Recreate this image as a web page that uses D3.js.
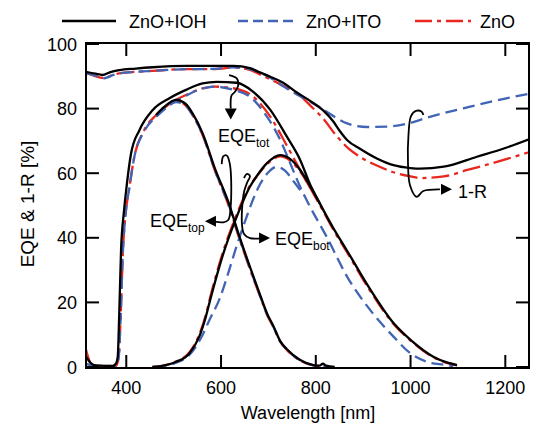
<!DOCTYPE html>
<html lang="en">
<head>
  <meta charset="UTF-8">
  <title>EQE and 1-R</title>
  <style>
    body {
      margin: 0;
      padding: 0;
      background: #fff;
    }
    svg {
      font-family: Arial, 'Liberation Sans', sans-serif;
    }
  </style>
</head>
<body>

<script src="https://d3js.org/d3.v7.min.js"></script>

<script>
  // Data: [wavelength nm, percent]
  const refIOH = [[315,91.4],[335,90.8],[350,90.4],[365,91.2],[385,91.9],[420,92.4],[456,92.8],[526,93.2],[586,93.2],[626,93.2],[661,92.5],[682,91.2],[697,90.3],[731,88],[760,85],[788,82.4],[815,79.5],[837,76],[851,73],[866,70.3],[894,67.5],[930,64.5],[964,62.5],[1000,61.6],[1020,61.4],[1070,62],[1140,65.1],[1200,67.8],[1250,70.5]];
  const refITO = [[315,91],[330,90.4],[354,89.4],[370,90.3],[385,90.9],[420,91.4],[456,91.7],[526,92.2],[586,92.3],[626,92.8],[661,92.2],[682,91.2],[697,90.2],[725,87.5],[753,85],[790,82],[823,79],[845,77],[866,75.4],[908,74.3],[950,74.4],[1000,75.6],[1035,77.2],[1070,78.6],[1120,80.4],[1175,82.3],[1250,84.6]];
  const refZnO = [[315,91],[330,90.3],[354,89.4],[370,90.3],[385,90.9],[420,91.4],[456,91.7],[526,92.2],[586,92.2],[626,92.7],[661,92],[682,90.6],[697,89.6],[731,87],[767,84],[788,81],[815,77],[844,71.5],[870,67.5],[894,65],[930,62.3],[964,60.3],[1000,59],[1020,58.5],[1070,59],[1120,61],[1175,63.2],[1250,66.5]];

  const totIOH = [[315,3.2],[325,1.2],[336,0.5],[371,0.3],[378,1],[382,3.2],[385,15.6],[389,36.2],[395,48],[400,55],[410,66],[428,73.4],[456,79.6],[491,83.2],[526,85.8],[561,87.8],[591,88.3],[633,88],[668,85.2],[704,79.6],[739,71.3],[767,64.1],[788,56.5],[809,50.5],[837,43],[866,36],[915,24],[964,13.6],[1000,8.4],[1048,3.2],[1075,1.5],[1098,0.6]];
  const totITO = [[315,1],[330,0.4],[378,0.3],[384,3],[388,15],[393,36],[399,48],[406,55],[417,65],[438,73],[463,77.5],[491,81],[526,84],[561,86.2],[586,86.8],[626,85.8],[661,83.7],[697,77.5],[725,70.3],[746,63.1],[767,55.8],[784,50.7],[823,40.3],[866,28],[915,17.6],[964,9.4],[1000,4.2],[1035,1.6],[1070,0.7],[1090,0.3]];
  const totZnO = [[315,5.3],[322,2],[330,0.4],[378,0.3],[384,3],[388,15],[393,36],[399,48],[406,55],[417,65.1],[438,73.4],[463,78],[491,81.6],[526,84.2],[561,86.3],[586,86.8],[626,86.3],[668,83.7],[704,77.5],[739,68.5],[767,61],[788,55.5],[809,50],[837,42.5],[866,35.5],[915,23.5],[964,13.3],[1000,8.2],[1048,3],[1098,0.5]];

  // top cells branch off the totals near 465 nm
  const topIOH = [[463,78],[480,80.5],[505,82.7],[525,81.5],[540,78.5],[561,72.4],[587,61.5],[619,49.6],[633,43],[661,31],[682,22.5],[697,16.6],[711,12.5],[725,8],[739,5.5],[767,2.2],[795,0.6],[808,0.4],[815,1.0],[822,0.4],[840,0]];
  const topITO = [[463,77.5],[480,79.8],[505,82],[525,81],[540,78],[561,72],[587,61],[619,49],[633,42.6],[661,30.6],[682,22.2],[697,16.4],[711,12.3],[725,7.9],[739,5.4],[767,2.1],[795,0.5],[830,0]];
  const topZnO = [[463,78],[480,80.2],[505,82.3],[525,81],[540,78],[561,71.8],[587,60.8],[619,48.8],[633,42.3],[661,30.3],[682,22],[697,16.2],[711,12.2],[725,7.8],[739,5.3],[767,2],[795,0.5],[830,0]];

  // bottom cells join the totals at long wavelength
  const botIOH = [[455,0],[470,0.2],[505,1.6],[533,4.2],[554,9.4],[568,15.6],[577,20.7],[605,35.2],[633,46.5],[661,55.8],[675,59],[697,63.1],[725,65.6],[745,64.5],[767,61],[788,56],[809,50.5]];
  const botITO = [[460,0],[480,0.3],[505,1.3],[533,3.7],[556,8.5],[577,15],[598,21.5],[615,29],[633,37.5],[654,46.5],[668,52],[682,56.5],[700,60.3],[718,62],[735,60.8],[753,57.5],[767,54.8],[776,53]];
  const botZnO = [[455,0],[470,0.2],[505,1.7],[533,4.5],[554,10],[568,16.2],[577,21.5],[605,36],[633,47.2],[661,56.2],[675,59],[697,62.8],[725,65.2],[745,64],[767,60.5],[788,55.5]];

  const xTicks = [400, 600, 800, 1000, 1200];
  const yTicks = [0, 20, 40, 60, 80, 100];

  // annotation curls, in data units
  const curlTot = [[617,90.4],[633,89.4],[636.4,87.3],[629.5,85.2],[622,84],[620.5,80]];
  const curlTop = [[601.4,62.8],[604.8,65.2],[612,65.5],[619,62.5],[620.4,49.6],[615.3,45.5],[604.8,44.8],[583.7,45.1]];
  const curlBot = [[648.5,58.5],[654.8,59.8],[661,59.1],[654.8,57],[648.5,54.2],[644.3,48.6],[644.3,44],[648.5,41.2],[661,39.9],[690,39.9]];
  const curlRef = [[1027,78],[1023.6,79],[1011.5,79.3],[1001,77.7],[995.6,71.8],[994.6,63.2],[998.8,56.3],[1013,52.7],[1027,54.5],[1062,55]];

  const W = 536, H = 427;
  const svg = d3.select('body').append('svg')
    .attr('width', W)
    .attr('height', H);

  const x = d3.scaleLinear().domain([315, 1250]).range([86, 529]);
  const y = d3.scaleLinear().domain([0, 100]).range([367, 44]);

  const line = d3.line()
    .x(d => x(d[0]))
    .y(d => y(d[1]))
    .curve(d3.curveMonotoneX);

  const red = '#e8271f', blue = '#4164b4';
  const styles = {
    ZnO: { color: red, dash: '18,5,4,5', legendDash: '17,5,4,5' },
    ITO: { color: blue, dash: '12,6', legendDash: '10,5' },
    IOH: { color: '#000', dash: null, legendDash: null }
  };

  const series = [
    ['ZnO', [refZnO, totZnO, topZnO, botZnO]],
    ['ITO', [refITO, totITO, topITO, botITO]],
    ['IOH', [refIOH, totIOH, topIOH, botIOH]]
  ];

  // clip to plot frame
  svg.append('clipPath').attr('id', 'plot')
    .append('rect').attr('x', 86).attr('y', 43).attr('width', 443).attr('height', 325);

  const curves = svg.append('g').attr('clip-path', 'url(#plot)');
  series.forEach(([key, arrs]) => {
    arrs.forEach(arr => {
      curves.append('path')
        .attr('d', line(arr))
        .attr('fill', 'none')
        .attr('stroke', styles[key].color)
        .attr('stroke-width', 2.3)
        .attr('stroke-dasharray', styles[key].dash);
    });
  });

  // frame + inward ticks
  const axes = svg.append('g').attr('stroke', '#000').attr('stroke-width', 2);
  axes.append('rect')
    .attr('x', 86).attr('y', 43).attr('width', 443).attr('height', 325)
    .attr('fill', 'none');
  xTicks.forEach(t => {
    axes.append('line').attr('x1', x(t)).attr('x2', x(t)).attr('y1', 368).attr('y2', 355);
    axes.append('line').attr('x1', x(t)).attr('x2', x(t)).attr('y1', 43).attr('y2', 56);
  });
  yTicks.forEach(t => {
    axes.append('line').attr('x1', 86).attr('x2', 99).attr('y1', y(t)).attr('y2', y(t));
    axes.append('line').attr('x1', 529).attr('x2', 516).attr('y1', y(t)).attr('y2', y(t));
  });

  const labels = svg.append('g').attr('font-size', 18).attr('fill', '#000');
  xTicks.forEach(t => {
    labels.append('text').attr('x', x(t)).attr('y', 394)
      .attr('text-anchor', 'middle').text(t);
  });
  yTicks.forEach(t => {
    labels.append('text').attr('x', 77).attr('y', y(t) + 6.5)
      .attr('text-anchor', 'end').text(t);
  });
  labels.append('text').attr('x', 308).attr('y', 419)
    .attr('text-anchor', 'middle').text('Wavelength [nm]');
  labels.append('text')
    .attr('transform', 'translate(33.5,204) rotate(-90)')
    .attr('font-size', 19)
    .attr('text-anchor', 'middle').text('EQE & 1-R [%]');

  // legend
  const legend = [
    { name: 'ZnO+IOH', key: 'IOH', x1: 62, x2: 116, tx: 129 },
    { name: 'ZnO+ITO', key: 'ITO', x1: 238, x2: 293, tx: 306 },
    { name: 'ZnO', key: 'ZnO', x1: 415, x2: 471, tx: 480 }
  ];
  legend.forEach(l => {
    svg.append('line').attr('x1', l.x1).attr('x2', l.x2).attr('y1', 21).attr('y2', 21)
      .attr('stroke', styles[l.key].color).attr('stroke-width', 2.4)
      .attr('stroke-dasharray', styles[l.key].legendDash);
    labels.append('text').attr('x', l.tx).attr('y', 28).text(l.name);
  });

  // annotations
  const curl = d3.line().x(d => x(d[0])).y(d => y(d[1])).curve(d3.curveCatmullRom.alpha(0.5));
  const notes = svg.append('g');
  [curlTot, curlTop, curlBot, curlRef].forEach(c => {
    notes.append('path').attr('d', curl(c))
      .attr('fill', 'none').attr('stroke', '#000').attr('stroke-width', 1.8);
  });

  function arrowHead(px, py, dir) {
    // dir: 'down', 'left', 'right'
    let pts;
    if (dir === 'down') pts = [[px - 6, py - 11], [px + 6, py - 11], [px, py]];
    if (dir === 'left') pts = [[px + 11, py - 5.5], [px + 11, py + 5.5], [px, py]];
    if (dir === 'right') pts = [[px - 11, py - 5.5], [px - 11, py + 5.5], [px, py]];
    notes.append('polygon').attr('points', pts.join(' ')).attr('fill', '#000');
  }
  arrowHead(x(620.5), y(76.6), 'down');
  arrowHead(x(566), y(45.1), 'left');
  arrowHead(x(703.5), y(39.9), 'right');
  arrowHead(x(1087.5), y(55), 'right');

  function subLabel(wl, v, main, sub) {
    const t = labels.append('text').attr('x', x(wl)).attr('y', y(v));
    t.append('tspan').text(main);
    t.append('tspan').attr('font-size', 12).attr('dy', 5).text(sub);
  }
  subLabel(593.6, 69.7, 'EQE', 'tot');
  subLabel(450, 43.2, 'EQE', 'top');
  subLabel(713.9, 37.8, 'EQE', 'bot');
  labels.append('text').attr('x', x(1100)).attr('y', y(52.4)).text('1-R');
</script>

</body>
</html>
